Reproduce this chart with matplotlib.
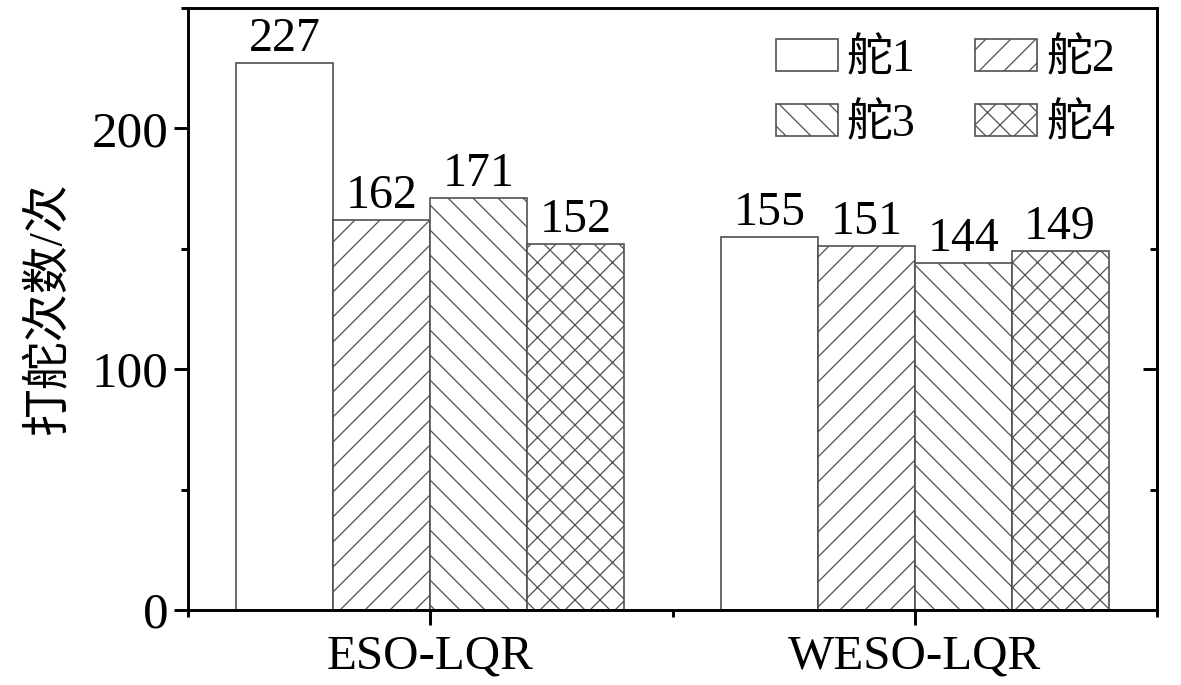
import numpy as np
import matplotlib
matplotlib.use('Agg')
import matplotlib.pyplot as plt
from matplotlib.ticker import FixedLocator

# 数据
groups = ['ESO-LQR', 'WESO-LQR']
series = ['舵1', '舵2', '舵3', '舵4']
rudder1 = [227, 155]
rudder2 = [162, 151]
rudder3 = [171, 144]
rudder4 = [152, 149]
values = [rudder1, rudder2, rudder3, rudder4]
hatches = ['', '//', '\\\\', 'xx']

fonts = ['Liberation Serif', 'Noto Sans CJK SC', 'DejaVu Sans']
plt.rcParams['font.family'] = fonts
plt.rcParams['hatch.linewidth'] = 0.6

fig = plt.figure(figsize=(1181 / 150, 685 / 150), dpi=150)
ax = fig.add_axes([188 / 1181, 1 - 610 / 685, (1157 - 188) / 1181, (610 - 8) / 685])

x = np.arange(len(groups))
width = 0.2
handles = []
for i, (name, vals, h) in enumerate(zip(series, values, hatches)):
    bars = ax.bar(x + (i - 1.5) * width, vals, width, label=name,
                  facecolor='white', edgecolor='#505050', linewidth=0.8, hatch=h)
    ax.bar_label(bars, padding=1, fontsize=23)
    handles.append(bars)

ax.set_xlim(-0.5, 1.5)
ax.set_ylim(0, 250)
ax.set_xticks(x)
ax.set_xticklabels(groups, fontsize=23.5)
ax.xaxis.set_minor_locator(FixedLocator([-0.5, 0.5, 1.5]))
ax.set_yticks([0, 100, 200])
ax.set_yticklabels(['0', '100', '200'], fontsize=24.5)
ax.yaxis.set_minor_locator(FixedLocator([50, 150, 250]))
ax.set_ylabel('打舵次数/次', fontsize=23, labelpad=10)

for s in ax.spines.values():
    s.set_linewidth(1.4)
ax.tick_params(which='major', direction='out', length=6.5, width=1.4, pad=3)
ax.tick_params(which='minor', direction='out', length=3.5, width=1.4)
ax.tick_params(axis='x', which='major', length=7, pad=5)

# 右侧内向刻度
sec = ax.secondary_yaxis('right')
sec.set_yticks([100])
sec.set_yticklabels([])
sec.yaxis.set_minor_locator(FixedLocator([50, 150]))
sec.tick_params(which='major', direction='in', length=6.5, width=1.4)
sec.tick_params(which='minor', direction='in', length=3.5, width=1.4)
sec.spines['right'].set_linewidth(1.4)

# 图例按行排列：舵1 舵2 / 舵3 舵4
order = [0, 2, 1, 3]
ax.legend([handles[k] for k in order], [series[k] for k in order],
          ncol=2, loc='upper right', bbox_to_anchor=(0.985, 0.995), frameon=False,
          fontsize=22, handlelength=1.35, handleheight=0.7, handletextpad=0.2,
          columnspacing=1.3, labelspacing=0.5, borderaxespad=0.2)

fig.savefig('out.png', dpi=150)
